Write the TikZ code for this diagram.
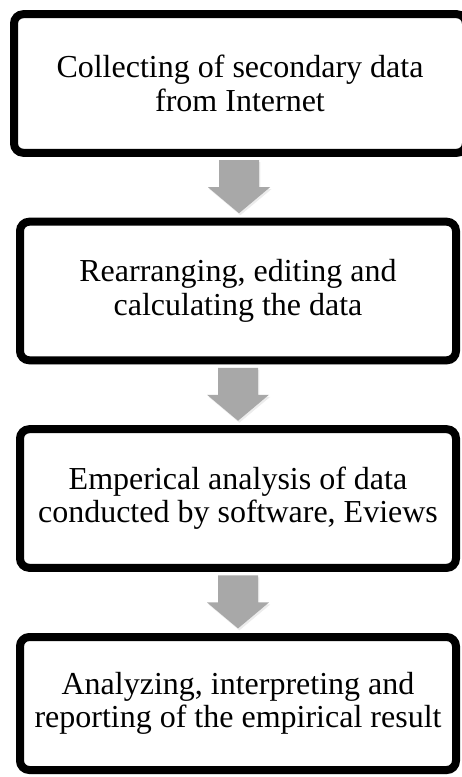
\documentclass[tikz,border=0pt]{standalone}
\usepackage{fontspec}
\setmainfont{Liberation Serif}
\usetikzlibrary{shadows}
\usetikzlibrary{calc}
\definecolor{arrowgray}{RGB}{168,168,168}

\begin{document}
\begin{tikzpicture}[x=0.75pt,y=-0.75pt,
  stagebox/.style={draw,line width=6pt,rounded corners=7pt,fill=white,align=center,
    font=\fontsize{24}{25}\selectfont,minimum width=327pt,minimum height=104pt,
    drop shadow={shadow xshift=1.5pt,shadow yshift=-3pt,opacity=0.3}},
  blockarrow/.style={fill=arrowgray,drop shadow={shadow xshift=1pt,shadow yshift=-1.5pt,opacity=0.15}}]
\useasboundingbox (0,0) rectangle (461,777);

\node[stagebox,minimum width=339pt] (C) at (240,83.5) {Collecting of secondary data\\from Internet};
\node[stagebox] (R) at (238,291) {Rearranging, editing and\\calculating the data};
\node[stagebox] (E) at (238,498.5) {Emperical analysis of data\\conducted by software, Eviews};
\node[stagebox,minimum height=99.75pt] (A) at (238,703.5) {Analyzing, interpreting and\\reporting of the empirical result};

\coordinate (m1) at ($(C.south)!0.5!(R.north)$);
\coordinate (m2) at ($(R.south)!0.5!(E.north)$);
\coordinate (m3) at ($(E.south)!0.5!(A.north)$);

\path[blockarrow] ($(m1)+(-20,-27)$) -- ($(m1)+(20,-27)$) -- ($(m1)+(20,0)$) -- ($(m1)+(31,0)$) -- ($(m1)+(0,26)$) -- ($(m1)+(-31,0)$) -- ($(m1)+(-20,0)$) -- cycle;
\path[blockarrow] ($(m2)+(-20,-27)$) -- ($(m2)+(20,-27)$) -- ($(m2)+(20,0)$) -- ($(m2)+(31,0)$) -- ($(m2)+(0,26)$) -- ($(m2)+(-31,0)$) -- ($(m2)+(-20,0)$) -- cycle;
\path[blockarrow] ($(m3)+(-20,-27)$) -- ($(m3)+(20,-27)$) -- ($(m3)+(20,0)$) -- ($(m3)+(31,0)$) -- ($(m3)+(0,26)$) -- ($(m3)+(-31,0)$) -- ($(m3)+(-20,0)$) -- cycle;
\end{tikzpicture}
\end{document}
